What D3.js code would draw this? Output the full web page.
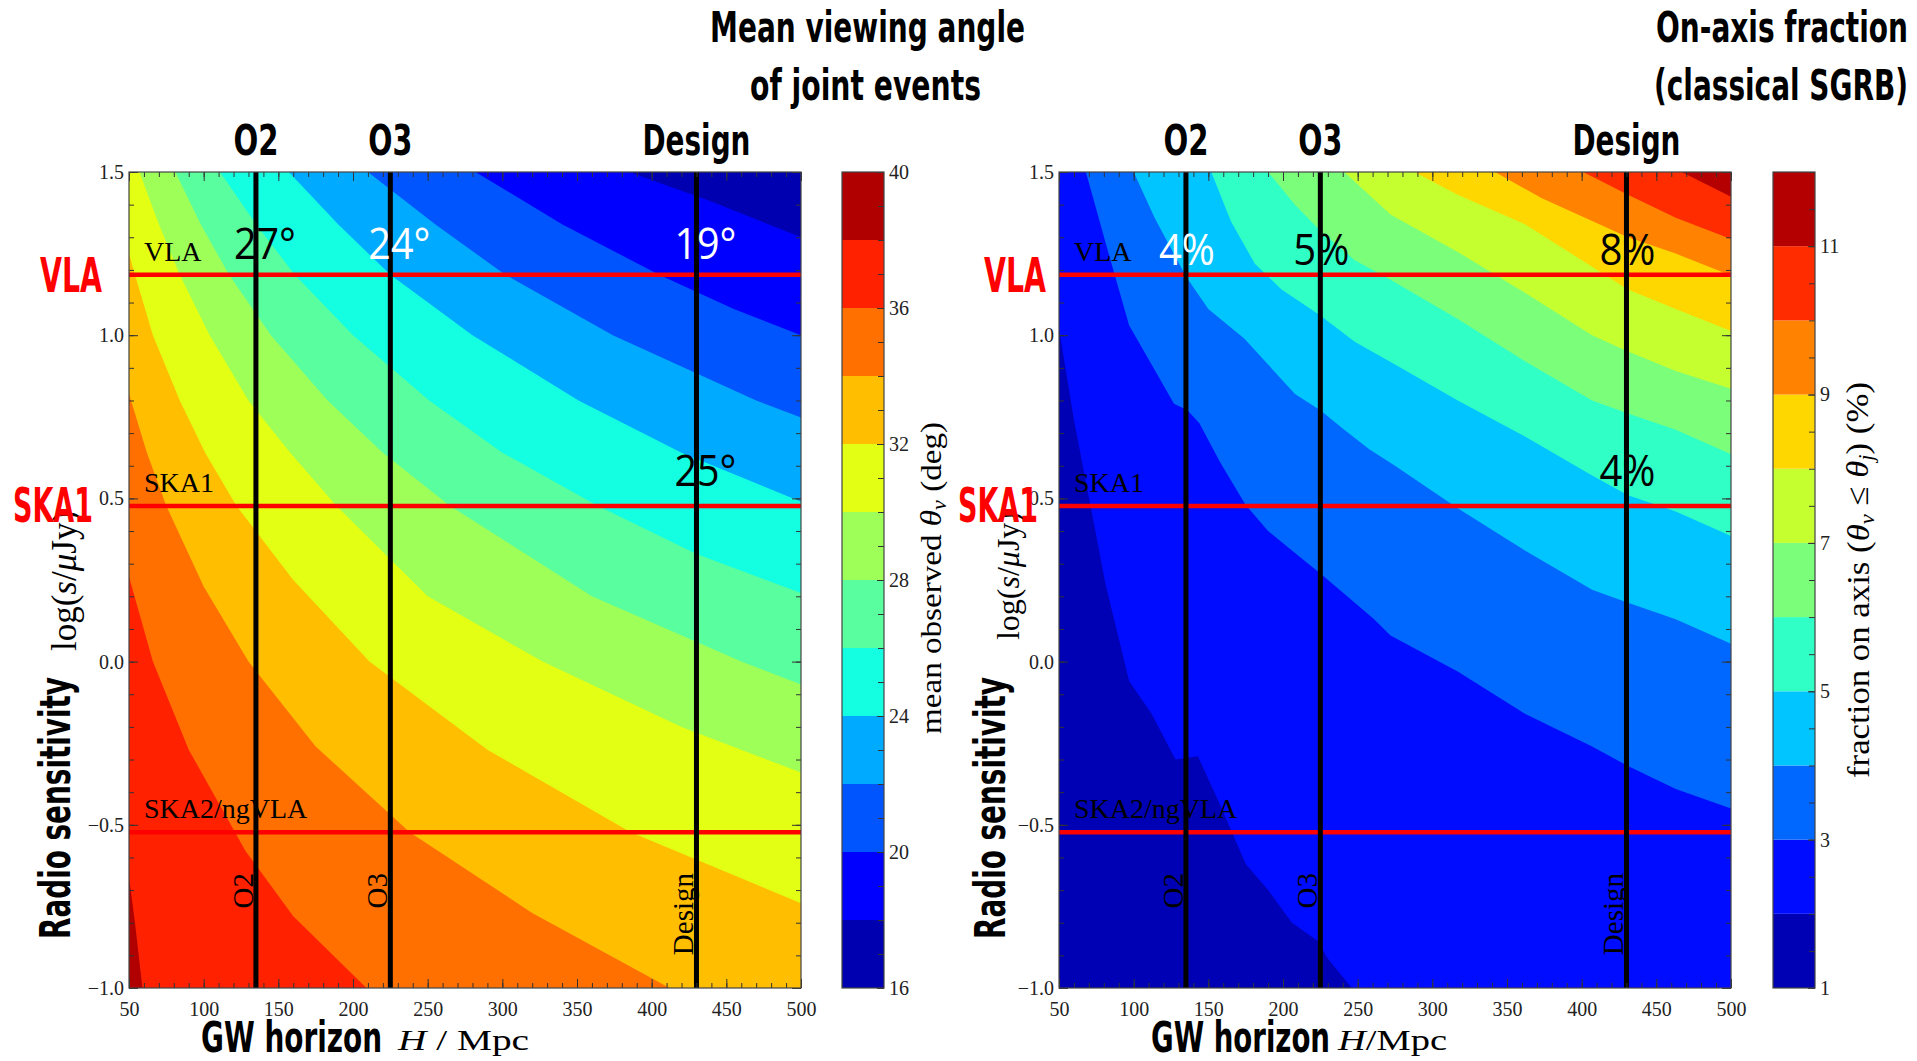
<!DOCTYPE html>
<html>
<head>
<meta charset="utf-8">
<title>Mean viewing angle and on-axis fraction</title>
<script src="https://cdn.jsdelivr.net/npm/d3@7"></script>
<style>
body{margin:0;background:#fff;}
.tick text{font-family:"Liberation Serif",serif;font-size:20px;fill:#222;}
.tick line{stroke:#333;stroke-width:1;}
.cond{font-family:"DejaVu Sans Condensed","DejaVu Sans",sans-serif;font-stretch:condensed;font-weight:bold;}
.serif{font-family:"Liberation Serif",serif;}
.note{font-family:"Open Sans",sans-serif;}
</style>
</head>
<body>
<div id="chart"></div>
<script>
// ---------- values ----------
var hRange=[50,500];          // GW horizon H / Mpc
var sRange=[-1.0,1.5];        // log(s / uJy)
var xTicks=[50,100,150,200,250,300,350,400,450,500];
var yTicks=[-1.0,-0.5,0.0,0.5,1.0,1.5];

var detectorNames=["O2","O3","Design"];
var detectorH=[135,225,430];
var radioNames=["VLA","SKA1","SKA2/ngVLA"];
var radioLogS=[1.185,0.477,-0.523];

// left panel: mean observed viewing angle (deg)
var angleLevels=[16,18,20,22,24,26,28,30,32,34,36,38,40];
var angleTicks=[16,20,24,28,32,36,40];
var angleEdgeLevels=[18,20,22,24,26,28,30,32,34,36,38];
// each contour level as [H, log s] points, from one edge of the plot to another
var angleEdges=[
  [[385,1.5],[440,1.41],[500,1.30]],
  [[282,1.5],[340,1.34],[405,1.185],[455,1.08],[500,1.0]],
  [[210,1.5],[255,1.34],[302,1.185],[374,1.0],[470,0.8],[500,0.748]],
  [[157,1.5],[190,1.34],[225,1.185],[280,1.0],[351,0.8],[420,0.64],[500,0.49]],
  [[111,1.5],[135,1.34],[161,1.185],[200,1.0],[251,0.8],[300,0.64],[364,0.477],[430,0.33],[500,0.21]],
  [[81,1.5],[98,1.34],[117,1.185],[145,1.0],[183,0.8],[220,0.64],[265,0.477],[360,0.2],[460,0.0],[500,-0.07]],
  [[57,1.5],[70,1.34],[84,1.185],[104,1.0],[130,0.8],[158,0.64],[189,0.477],[250,0.2],[327,0.0],[420,-0.2],[500,-0.34]],
  [[50,1.25],[54,1.185],[66,1.0],[84,0.8],[101,0.64],[122,0.477],[160,0.25],[211,0.0],[290,-0.27],[386,-0.523],[500,-0.74]],
  [[50,0.82],[62,0.64],[75,0.477],[100,0.23],[130,0.0],[175,-0.26],[238,-0.523],[320,-0.77],[412,-1.0]],
  [[50,0.26],[66,0.0],[90,-0.27],[121,-0.523],[128,-0.58],[160,-0.78],[209,-1.0]],
  [[50,-0.66],[54,-0.8],[59,-1.0]]
];
var angleNoteText=["27°","24°","19°","25°"];
var angleNoteDet=[0,1,2,2];
var angleNoteRadio=[0,0,0,1];

// right panel: on-axis fraction (%)
var fracLevels=[1,2,3,4,5,6,7,8,9,10,11,12];
var fracTicks=[1,3,5,7,9,11];
var fracEdgeLevels=[2,3,4,5,6,7,8,9,10,11];
var fracEdges=[
  [[50,1.02],[60,0.74],[71,0.48],[81,0.24],[97,-0.06],[112,-0.16],[128,-0.30],[143,-0.29],[158,-0.44],[175,-0.62],[190,-0.70],[206,-0.80],[223,-0.855],[230,-0.91],[246,-1.0]],
  [[68,1.5],[82,1.27],[97,1.03],[112,0.91],[127,0.79],[136,0.77],[144,0.73],[158,0.61],[175,0.48],[190,0.40],[206,0.34],[225,0.27],[243,0.20],[261,0.13],[272,0.08],[317,-0.03],[362,-0.16],[407,-0.26],[431,-0.32],[463,-0.39],[500,-0.45]],
  [[100,1.5],[114,1.36],[135,1.18],[150,1.08],[174,0.99],[190,0.91],[208,0.82],[225,0.77],[241,0.71],[258,0.65],[275,0.60],[317,0.47],[362,0.34],[407,0.22],[431,0.18],[463,0.13],[500,0.055]],
  [[152,1.5],[165,1.35],[181,1.22],[199,1.14],[225,1.06],[248,0.98],[275,0.91],[317,0.80],[362,0.69],[407,0.57],[431,0.51],[463,0.46],[500,0.385]],
  [[190,1.5],[208,1.40],[225,1.32],[248,1.23],[272,1.17],[317,1.05],[362,0.92],[407,0.80],[431,0.76],[463,0.71],[500,0.635]],
  [[241,1.5],[272,1.37],[317,1.255],[362,1.13],[407,1.0],[431,0.95],[463,0.89],[500,0.836]],
  [[288,1.5],[317,1.43],[362,1.34],[407,1.21],[431,1.14],[463,1.08],[500,1.013]],
  [[342,1.5],[373,1.42],[407,1.35],[431,1.30],[463,1.25],[500,1.183]],
  [[401,1.5],[431,1.43],[463,1.36],[500,1.295]],
  [[467,1.5],[500,1.424]]
];
var fracNoteText=["4%","5%","8%","4%"];
var fracNoteDet=[0,1,2,2];
var fracNoteRadio=[0,0,0,1];

// jet colours of the filled bands (lowest band first)
var angleColors=["#0000b0","#0000ff","#0055ff","#00aaff","#14ffe2","#59ff9e","#9eff59","#e2ff14","#ffbe00","#ff7000","#ff2100","#b00000"];
var fracColors=["#0000b4","#000cff","#0068ff","#00c5ff","#30ffc6","#7bff7b","#c6ff30","#ffd700","#ff8200","#ff2c00","#b40000"];

// ---------- layout ----------
var W=1917, H=1061;
var plotTop=172, plotBottom=988;

var svg=d3.select("#chart").append("svg")
          .attr("width",W)
          .attr("height",H)
          .style("display","block");
svg.append("rect").attr("width",W).attr("height",H).attr("fill","#fff");

//closes a contour line round the upper right corner of the plot
function closeEdge(pts) {
    var c=pts.slice();
    var a=c[0], b=c[c.length-1];
    if (b[0]<hRange[1]) c.push([hRange[1],sRange[0]]);
    c.push([hRange[1],sRange[1]]);
    if (a[0]<=hRange[0]) c.push([hRange[0],sRange[1]]);
    return c;
}

function addText(parent,cls,txt,x,y,size,opts) {
    opts=opts||{};
    var t=parent.append("text")
          .attr("class",cls)
          .attr("font-size",size)
          .attr("text-anchor",opts.anchor||"start")
          .attr("fill",opts.fill||"#000");
    if (opts.rotate) t.attr("transform","translate("+x+","+y+")rotate(-90)");
    else t.attr("x",x).attr("y",y);
    if (opts.len) t.attr("textLength",opts.len).attr("lengthAdjust","spacingAndGlyphs");
    if (txt!==null) t.text(txt);
    return t;
}

function drawPanel(p) {
    var x=d3.scaleLinear().domain(hRange).range([p.left,p.right]);
    var y=d3.scaleLinear().domain(sRange).range([plotBottom,plotTop]);
    var g=svg.append("g");

    svg.append("clipPath").attr("id","clip"+p.id)
       .append("rect")
       .attr("x",p.left).attr("y",plotTop)
       .attr("width",p.right-p.left).attr("height",plotBottom-plotTop);
    var body=g.append("g").attr("clip-path","url(#clip"+p.id+")");

    //filled contour bands
    body.append("rect")
        .attr("x",p.left).attr("y",plotTop)
        .attr("width",p.right-p.left).attr("height",plotBottom-plotTop)
        .attr("fill",p.baseColor);
    var line=d3.line().x(function(d) {return x(d[0]);}).y(function(d) {return y(d[1]);});
    body.selectAll("path.band")
        .data(p.bands)
        .enter()
        .append("path")
        .attr("class","band")
        .attr("d",function(d) {return line(closeEdge(d.edge))+"Z";})
        .attr("fill",function(d) {return d.color;});

    //rotated detector names at the foot of each line
    detectorNames.forEach(function(n,i) {
        addText(body,"serif",n,x(detectorH[i])-3,873,29,{anchor:"end",rotate:true});
    });
    //radio facility names
    radioNames.forEach(function(n,i) {
        addText(body,"serif",n,p.left+15,y(radioLogS[i])-14,28);
    });

    //radio sensitivity lines
    body.selectAll("line.radio")
        .data(radioLogS)
        .enter()
        .append("line")
        .attr("x1",p.left).attr("x2",p.right)
        .attr("y1",function(d) {return y(d);})
        .attr("y2",function(d) {return y(d);})
        .style("stroke","#ff0000")
        .style("stroke-width",4.5);
    //detector horizon lines
    body.selectAll("line.det")
        .data(detectorH)
        .enter()
        .append("line")
        .attr("x1",function(d) {return x(d);})
        .attr("x2",function(d) {return x(d);})
        .attr("y1",plotTop).attr("y2",plotBottom)
        .style("stroke","#000")
        .style("stroke-width",5);

    //axes, ticks pointing inwards on all four sides
    var bottomAxis=d3.axisBottom(x).tickValues(xTicks).tickSize(-9).tickPadding(14).tickFormat(d3.format("d"));
    var bottomMinor=d3.axisBottom(x).tickValues(d3.range(50,501,10)).tickSize(-5).tickFormat("");
    var topAxis=d3.axisTop(x).tickValues(xTicks).tickSize(-9).tickFormat("");
    var topMinor=d3.axisTop(x).tickValues(d3.range(50,501,10)).tickSize(-5).tickFormat("");
    var leftAxis=d3.axisLeft(y).tickValues(yTicks).tickSize(-9).tickPadding(5).tickFormat(d3.format(".1f"));
    var leftMinor=d3.axisLeft(y).tickValues(d3.range(-10,16,1).map(function(v) {return v/10;})).tickSize(-5).tickFormat("");
    var rightAxis=d3.axisRight(y).tickValues(yTicks).tickSize(-9).tickFormat("");
    var rightMinor=d3.axisRight(y).tickValues(d3.range(-10,16,1).map(function(v) {return v/10;})).tickSize(-5).tickFormat("");
    [[bottomAxis,"0,"+plotBottom],[bottomMinor,"0,"+plotBottom],
     [topAxis,"0,"+plotTop],[topMinor,"0,"+plotTop],
     [leftAxis,p.left+",0"],[leftMinor,p.left+",0"],
     [rightAxis,p.right+",0"],[rightMinor,p.right+",0"]].forEach(function(a) {
        var ax=g.append("g").attr("transform","translate("+a[1]+")").call(a[0]);
        ax.select(".domain").remove();
    });
    g.append("rect")
     .attr("x",p.left).attr("y",plotTop)
     .attr("width",p.right-p.left).attr("height",plotBottom-plotTop)
     .attr("fill","none").attr("stroke","#444").attr("stroke-width",1.2);

    //value notes at line crossings
    p.notes.forEach(function(n) {
        addText(g,"note",n.text,x(detectorH[n.det])+p.noteDx,y(radioLogS[n.radio])-p.noteGap[n.radio],44,
                {anchor:"middle",fill:n.fill,len:p.noteLen});
    });

    //labels above the detector lines
    detectorNames.forEach(function(n,i) {
        addText(svg,"cond",n,x(detectorH[i]),155,42,{anchor:"middle",len:[45,44,108][i]});
    });

    //colour bar
    var cy=d3.scaleLinear().domain([p.levels[0],p.levels[p.levels.length-1]]).range([plotBottom,plotTop]);
    var cb=svg.append("g");
    cb.selectAll("rect")
      .data(p.levels.slice(0,-1))
      .enter()
      .append("rect")
      .attr("x",p.cbLeft)
      .attr("width",p.cbRight-p.cbLeft)
      .attr("y",function(d,i) {return cy(p.levels[i+1]);})
      .attr("height",function(d,i) {return cy(p.levels[i])-cy(p.levels[i+1]);})
      .attr("fill",function(d,i) {return p.colors[i];});
    var cbMajor=d3.axisRight(cy).tickValues(p.ticks).tickSize(-7).tickPadding(5).tickFormat(d3.format("d"));
    var cbMinor=d3.axisRight(cy).tickValues(p.minorTicks).tickSize(-6).tickFormat("");
    [cbMinor,cbMajor].forEach(function(a) {
        var ax=cb.append("g").attr("transform","translate("+p.cbRight+",0)").call(a);
        ax.select(".domain").remove();
    });
    cb.append("rect")
      .attr("x",p.cbLeft).attr("y",plotTop)
      .attr("width",p.cbRight-p.cbLeft).attr("height",plotBottom-plotTop)
      .attr("fill","none").attr("stroke","#444").attr("stroke-width",1.2);

    //axis titles
    addText(svg,"cond","GW horizon",p.gwX,1052,42,{len:p.gwLen});
    var hl=addText(svg,"serif",null,p.hX,1050,29,{len:p.hLen});
    hl.append("tspan").attr("font-style","italic").text("H");
    hl.append("tspan").text(p.hUnit);
    addText(svg,"cond","Radio sensitivity",p.left-p.rsOff,808,42,{anchor:"middle",rotate:true,len:262});
    var ll=addText(svg,"serif",null,p.left-p.logOff,p.logY,p.logSize,{anchor:"middle",rotate:true});
    ll.append("tspan").text("log(");
    ll.append("tspan").attr("font-style","italic").text("s");
    ll.append("tspan").text("/");
    ll.append("tspan").attr("font-style","italic").text("μ");
    ll.append("tspan").text("Jy)");
    addText(svg,"cond","VLA",p.vlaX,292,48,{fill:"#ff0000",len:62});
    addText(svg,"cond","SKA1",p.skaX,522,48,{fill:"#ff0000",len:80});
    p.cbLabel();
}

var panelL={
    id:"L", left:129, right:801, cbLeft:842, cbRight:884,
    baseColor:angleColors[angleColors.length-1],
    bands:angleEdgeLevels.map(function(L,i) {
        return {edge:angleEdges[i], color:angleColors[angleLevels.indexOf(L)-1]};
    }).reverse(),
    notes:angleNoteText.map(function(t,i) {
        return {text:t, det:angleNoteDet[i], radio:angleNoteRadio[i], fill:["#000","#fff","#fff","#000"][i]};
    }),
    noteDx:9, noteGap:[16,20], noteLen:62,
    levels:angleLevels, colors:angleColors, ticks:angleTicks, minorTicks:d3.range(16,41,1),
    gwX:201, gwLen:181, hX:398, hLen:131, hUnit:" / Mpc",
    rsOff:59, logOff:53, logY:581, logSize:35, vlaX:40, skaX:13,
    cbLabel:function() {
        var t=addText(svg,"serif",null,941,578,30,{anchor:"middle",rotate:true,len:312});
        t.append("tspan").text("mean observed ");
        t.append("tspan").attr("font-style","italic").text("θ");
        t.append("tspan").attr("font-style","italic").attr("font-size",20).attr("dy","0.25em").text("v");
        t.append("tspan").attr("dy","-0.18em").text(" (deg)");
    }
};
var panelR={
    id:"R", left:1059, right:1731, cbLeft:1773, cbRight:1815,
    baseColor:fracColors[0],
    bands:fracEdgeLevels.map(function(L,i) {
        return {edge:fracEdges[i], color:fracColors[fracLevels.indexOf(L)]};
    }),
    notes:fracNoteText.map(function(t,i) {
        return {text:t, det:fracNoteDet[i], radio:fracNoteRadio[i], fill:["#fff","#000","#000","#000"][i]};
    }),
    noteDx:1, noteGap:[10,20], noteLen:56,
    levels:fracLevels, colors:fracColors, ticks:fracTicks, minorTicks:d3.range(1,12.01,0.5),
    gwX:1151, gwLen:179, hX:1338, hLen:109, hUnit:"/Mpc",
    rsOff:54, logOff:40, logY:576, logSize:32, vlaX:984, skaX:958,
    cbLabel:function() {
        var t=addText(svg,"serif",null,1869,580,31,{anchor:"middle",rotate:true,len:396});
        t.append("tspan").text("fraction on axis (");
        t.append("tspan").attr("font-style","italic").text("θ");
        t.append("tspan").attr("font-style","italic").attr("font-size",20).attr("dy","0.25em").text("v");
        t.append("tspan").attr("dy","-0.18em").text(" ≤ ");
        t.append("tspan").attr("font-style","italic").text("θ");
        t.append("tspan").attr("font-style","italic").attr("font-size",20).attr("dy","0.25em").text("j");
        t.append("tspan").attr("dy","-0.18em").text(") (%)");
    }
};

drawPanel(panelL);
drawPanel(panelR);

//panel titles
addText(svg,"cond","Mean viewing angle",710,42,43,{len:315});
addText(svg,"cond","of joint events",750,100,43,{len:231});
addText(svg,"cond","On-axis fraction",1656,42,43,{len:252});
addText(svg,"cond","(classical SGRB)",1654,100,43,{len:254});
</script>
</body>
</html>
